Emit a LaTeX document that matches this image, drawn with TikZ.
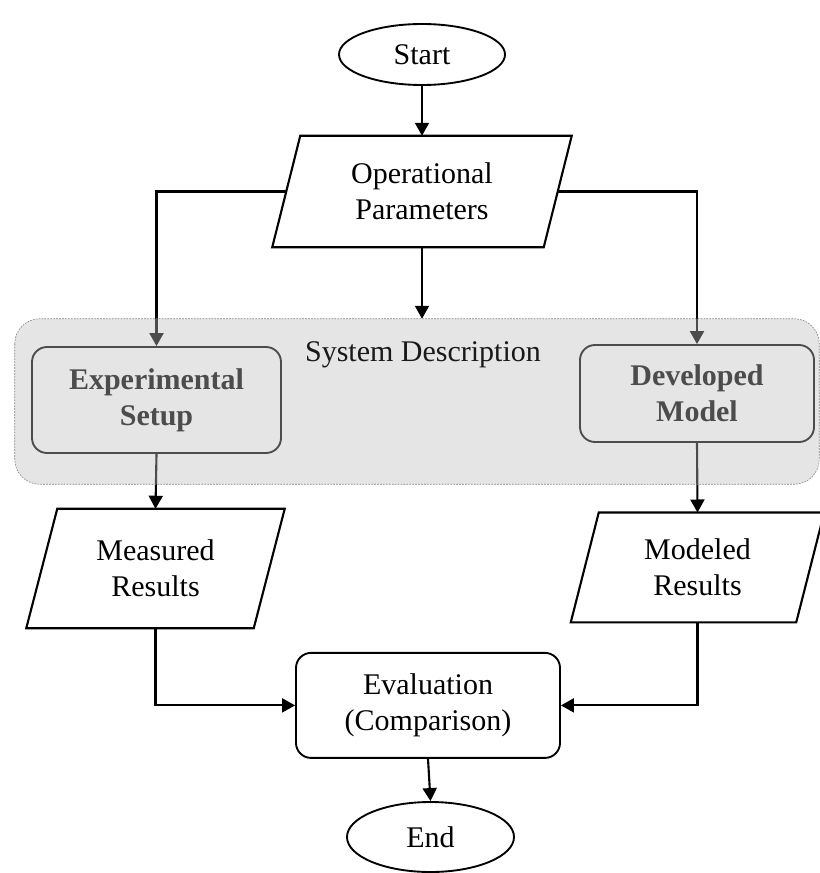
\documentclass[tikz,border=0pt]{standalone}
\usepackage{fontspec}
\setmainfont{Liberation Serif}
\usetikzlibrary{arrows.meta,shapes.geometric,calc}
\begin{document}
\begin{tikzpicture}[x=0.03cm,y=-0.03cm,
  every node/.style={font=\fontsize{25.6}{30.7}\selectfont, align=center, inner sep=0pt},
  line/.style={line width=1.8pt},
  conn/.style={line width=1.8pt, -{Triangle[length=0.39cm,width=0.42cm]}},
  term/.style={ellipse, draw, line width=1.6pt},
  proc/.style={rectangle, draw, line width=1.6pt, rounded corners=0.45cm}]
\useasboundingbox (0,0) rectangle (820,873);

% terminals
\node[term, minimum width=4.98cm, minimum height=1.83cm] (start) at (422,54.5) {Start};
\node[term, minimum width=5.01cm, minimum height=2.1cm] (end) at (430.5,837) {End};

% data (parallelogram) nodes: text holders, outlines drawn below
\node[minimum width=8.13cm, minimum height=3.33cm] (op) at (422,191.5) {Operational\\Parameters};
\node[minimum width=6.81cm, minimum height=3.57cm] (meas) at (155.5,568.5) {Measured\\Results};
\node[minimum width=6.75cm, minimum height=3.28cm] (mod) at (697.5,567.4) {Modeled\\Results};

\draw[line] ($(op.north west)+(14,0)$) -- ($(op.north east)+(14,0)$)
  -- ($(op.south east)+(-14,0)$) -- ($(op.south west)+(-14,0)$) -- cycle;
\draw[line] ($(meas.north west)+(15.5,0)$) -- ($(meas.north east)+(15.5,0)$)
  -- ($(meas.south east)+(-15.5,0)$) -- ($(meas.south west)+(-15.5,0)$) -- cycle;
\draw[line] ($(mod.north west)+(14,0)$) -- ($(mod.north east)+(14,0)$)
  -- ($(mod.south east)+(-14,0)$) -- ($(mod.south west)+(-14,0)$) -- cycle;

% process boxes
\node[proc, minimum width=7.47cm, minimum height=3.18cm] (exp) at (156.5,400) {\textbf{Experimental}\\\textbf{Setup}};
\node[proc, minimum width=7.02cm, minimum height=2.91cm] (dev) at (697,393.5) {\textbf{Developed}\\\textbf{Model}};
\node[proc, minimum width=7.92cm, minimum height=3.15cm] (eval) at (428,705.4) {Evaluation\\(Comparison)};

% system description group (frame only, shading drawn later)
\node[rectangle, minimum width=24.12cm, minimum height=4.95cm] (sys) at (417,401.5) {};

% connectors
\draw[conn] (start) -- (op);
\draw[conn] (op.west) -| (exp.north);
\draw[conn] (op.east) -| (dev.north);
\draw[conn] (op.south) -- (op.south |- sys.north);
\draw[conn] (exp.south) -- (meas.north);
\draw[conn] (dev.south) -- (mod.north);
\draw[conn] (meas.south) |- (eval.west);
\draw[conn] (mod.south) |- (eval.east);
\draw[conn] (eval.south) -- (end.north);

% translucent shading over the system group
\fill[black!25, fill opacity=0.4, rounded corners=0.75cm] (sys.north west) rectangle (sys.south east);
\draw[gray, line width=0.5pt, dash pattern=on 1.5pt off 1pt, rounded corners=0.75cm] (sys.north west) rectangle (sys.south east);
\node[text=black!90] (syslabel) at (423,355) {System Description};
\end{tikzpicture}
\end{document}
